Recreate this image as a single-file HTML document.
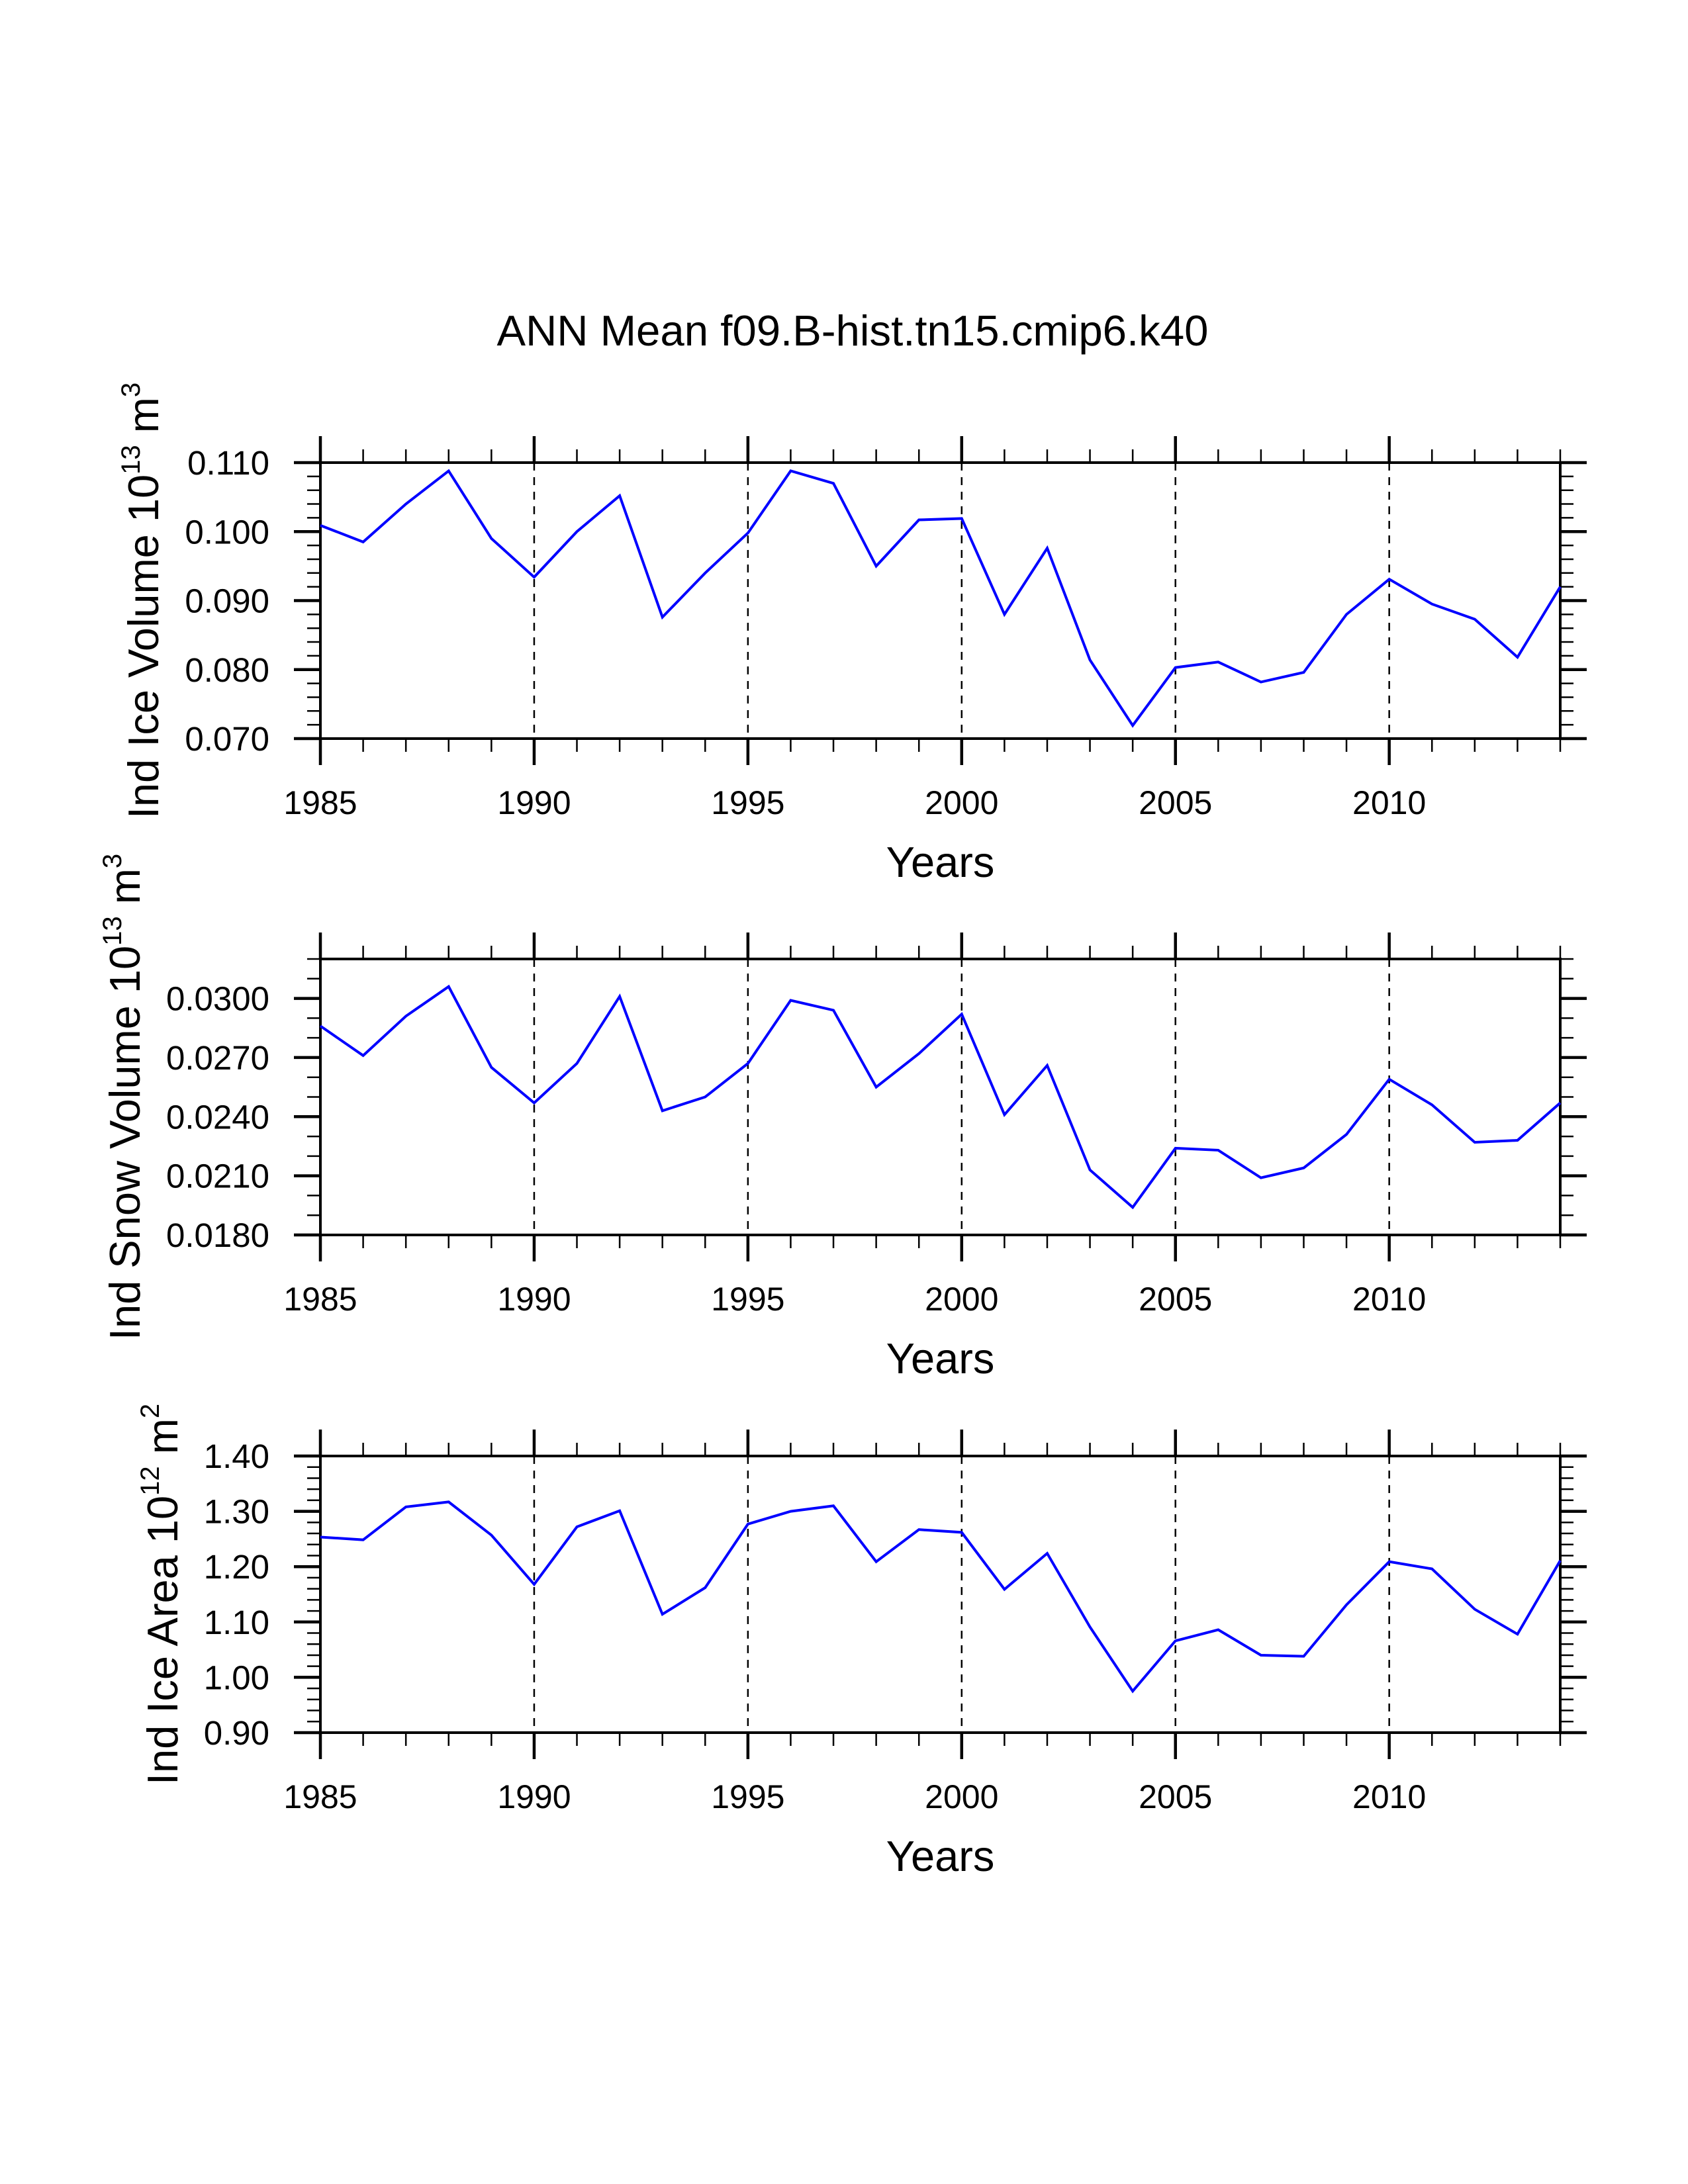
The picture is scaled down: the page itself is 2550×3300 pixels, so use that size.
<!DOCTYPE html>
<html><head><meta charset="utf-8"><style>
html,body{margin:0;padding:0;background:#fff;}
svg{display:block;font-family:"Liberation Sans",sans-serif;}
</style></head>
<body>
<svg id="chart" width="2550" height="3300" viewBox="0 0 2550 3300" xmlns="http://www.w3.org/2000/svg">
<rect width="2550" height="3300" fill="#fff"/>
<text x="1288" y="522" font-size="65" text-anchor="middle" textLength="1075" lengthAdjust="spacingAndGlyphs">ANN Mean f09.B-hist.tn15.cmip6.k40</text>
</svg>
<script>
const years = [1985,1986,1987,1988,1989,1990,1991,1992,1993,1994,1995,1996,1997,1998,1999,2000,2001,2002,2003,2004,2005,2006,2007,2008,2009,2010,2011,2012,2013,2014];
const iceVolume = [0.1009,0.0985,0.1040,0.1088,0.0990,0.0934,0.1000,0.1052,0.0876,0.0940,0.0998,0.1088,0.1070,0.0950,0.1017,0.1019,0.0880,0.0976,0.0814,0.0719,0.0803,0.0811,0.0782,0.0796,0.0880,0.0931,0.0895,0.0873,0.0818,0.0920];
const snowVolume = [0.0286,0.0271,0.0291,0.0306,0.0265,0.0247,0.0267,0.0301,0.0243,0.0250,0.0267,0.0299,0.0294,0.0255,0.0272,0.0292,0.0241,0.0266,0.0213,0.0194,0.0224,0.0223,0.0209,0.0214,0.0231,0.0259,0.0246,0.0227,0.0228,0.0247];
const iceArea = [1.2535,1.2485,1.308,1.317,1.257,1.168,1.272,1.301,1.114,1.162,1.277,1.300,1.310,1.209,1.267,1.262,1.159,1.224,1.091,0.975,1.066,1.086,1.040,1.038,1.131,1.209,1.196,1.123,1.078,1.211];
const xTickLabels = ["1985","1990","1995","2000","2005","2010"];
const iceVolTicks = ["0.070","0.080","0.090","0.100","0.110"];
const snowVolTicks = ["0.0180","0.0210","0.0240","0.0270","0.0300"];
const iceAreaTicks = ["0.90","1.00","1.10","1.20","1.30","1.40"];

const NS = "http://www.w3.org/2000/svg";
const svg = document.getElementById("chart");
function mk(tag, attrs, parent){const e=document.createElementNS(NS,tag);for(const k in attrs)e.setAttribute(k,attrs[k]);(parent||svg).appendChild(e);return e;}

const X0=484, X1=2357, YMIN=1985, YMAX=2014;
function xs(v){return X0+(v-YMIN)/(YMAX-YMIN)*(X1-X0);}

const panels = [
 {name:"ice-volume", top:699, bot:1116, lo:0.070, hi:0.110, major:0.010, minor:0.002, data:iceVolume, ticks:iceVolTicks, tx:239, t1:"Ind Ice Volume 10", sup1:"13", t2:" m", sup2:"3"},
 {name:"snow-volume", top:1449, bot:1866, lo:0.018, hi:0.032, major:0.003, minor:0.001, data:snowVolume, ticks:snowVolTicks, tx:211, t1:"Ind Snow Volume 10", sup1:"13", t2:" m", sup2:"3"},
 {name:"ice-area", top:2200, bot:2618, lo:0.90, hi:1.40, major:0.10, minor:0.02, data:iceArea, ticks:iceAreaTicks, tx:268, t1:"Ind Ice Area 10", sup1:"12", t2:" m", sup2:"2"}
];

panels.forEach(p=>{
  const g=mk("g",{});
  
  
  const ys=v=>p.bot-(v-p.lo)/(p.hi-p.lo)*(p.bot-p.top);
  // grid dashed
  for(let y=1990;y<=2010;y+=5){
    const l=mk("line",{x1:xs(y),x2:xs(y),y1:p.top,y2:p.bot,stroke:"#000","stroke-width":2.5,"stroke-dasharray":"12 10"},g);
    
    
  }
  // x ticks
  for(let y=YMIN;y<=YMAX;y++){
    const maj=(y%5===0), len=maj?40:20, w=maj?4.5:2.5, x=xs(y);
    mk("line",{x1:x,x2:x,y1:p.bot,y2:p.bot+len,stroke:"#000","stroke-width":w},g);
    mk("line",{x1:x,x2:x,y1:p.top,y2:p.top-len,stroke:"#000","stroke-width":w},g);
  }
  // y ticks
  const nMin=Math.round((p.hi-p.lo)/p.minor);
  const ratio=Math.round(p.major/p.minor);
  for(let i=0;i<=nMin;i++){
    const v=p.lo+i*p.minor;
    const first=Math.round((p.lo)/p.minor);
    const maj=((first+i)%ratio===0);
    const len=maj?40:20, w=maj?4.5:2.5, y=ys(v);
    mk("line",{x1:X0,x2:X0-len,y1:y,y2:y,stroke:"#000","stroke-width":w},g);
    mk("line",{x1:X1,x2:X1+len,y1:y,y2:y,stroke:"#000","stroke-width":w},g);
  }
  // y labels
  p.ticks.forEach(t=>{
    const tt=mk("text",{x:407,y:ys(parseFloat(t))+18,"font-size":51,"text-anchor":"end"},g);
    tt.textContent=t;
    
    
  });
  // x labels
  xTickLabels.forEach(t=>{
    const tt=mk("text",{x:xs(parseInt(t)),y:p.bot+114,"font-size":50,"text-anchor":"middle"},g);
    tt.textContent=t;
    
    
  });
  // frame
  const fr=mk("rect",{x:X0,y:p.top,width:X1-X0,height:p.bot-p.top,fill:"none",stroke:"#000","stroke-width":4},g);
  
  
  // series
  const pts=p.data.map((v,i)=>xs(years[i])+","+ys(v)).join(" ");
  const pl=mk("polyline",{points:pts,fill:"none",stroke:"#0000ff","stroke-width":4,"stroke-linejoin":"miter"},g);
  
  
  // x title
  const xt=mk("text",{x:(X0+X1)/2,y:p.bot+209,"font-size":65,"text-anchor":"middle"},g);
  xt.textContent="Years";
  
  
  // y title
  const cy=(p.top+p.bot)/2;
  const yt=mk("text",{x:0,y:0,"font-size":65,"text-anchor":"middle",transform:`translate(${p.tx},${cy}) rotate(-90)`},g);
  
  
  const a=mk("tspan",{},yt); a.textContent=p.t1;
  const b=mk("tspan",{dy:-28,"font-size":40},yt); b.textContent=p.sup1;
  const c=mk("tspan",{dy:28},yt); c.textContent=p.t2;
  const d=mk("tspan",{dy:-28,"font-size":40},yt); d.textContent=p.sup2;
});
</script>
</body></html>
